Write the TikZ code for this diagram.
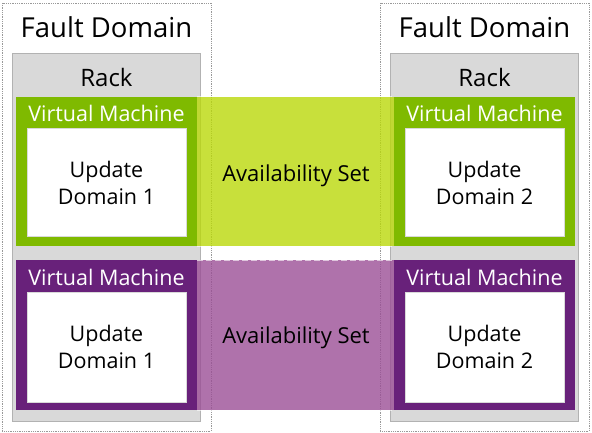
\documentclass[tikz,border=0pt]{standalone}
\usepackage{fontspec}
\setmainfont{Open Sans}
\usetikzlibrary{positioning}
\definecolor{vmgreen}{HTML}{7FBA00}
\definecolor{vmpurple}{HTML}{68217A}
\definecolor{setgreen}{HTML}{BAD80A}
\definecolor{setpurple}{HTML}{9B4F96}
\definecolor{rackgray}{HTML}{D9D9D9}

\begin{document}
\begin{tikzpicture}[x=1pt, y=-1pt,
    fault/.style={draw=gray!80, densely dotted, line width=0.8pt},
    rack/.style={draw=gray!60, fill=rackgray, line width=0.8pt},
    updbox/.style={draw=gray!30, fill=white, line width=0.5pt},
    avset/.style={fill opacity=0.8},
    avedge/.style={draw=white, draw opacity=0.6, dash pattern=on 6pt off 3pt, line width=1pt},
    bigtext/.style={font=\fontsize{27.5}{30}\selectfont, anchor=base},
    racktext/.style={font=\fontsize{24}{26}\selectfont, anchor=base},
    vmtext/.style={font=\fontsize{21.5}{24}\selectfont, text=white, anchor=base},
    udtext/.style={font=\fontsize{21.5}{27}\selectfont, align=center},
    settext/.style={font=\fontsize{22}{24}\selectfont, anchor=base}]
    \useasboundingbox (0,0) rectangle (592,433);

    % Fault domains, racks and machines
    \foreach \side/\dx/\n in {L/0/1, R/378/2} {
        \draw[fault] (\dx+2,3) rectangle (\dx+211,431);
        \node[bigtext] (fault\side) at (\dx+106.5,38) {Fault Domain};
        \draw[rack] (\dx+12,53) rectangle (\dx+200,421);
        \node[racktext] (rack\side) at (\dx+106.5,87) {Rack};

        % Upper machine
        \fill[vmgreen] (\dx+16,97) rectangle (\dx+197,246);
        \node[vmtext] (vmtop\side) at (\dx+106.5,122) {Virtual Machine};
        \draw[updbox] (\dx+27,128) rectangle (\dx+186,236);
        \node[udtext] (udtop\side) at (\dx+106.5,183) {Update\\Domain \n};

        % Lower machine
        \fill[vmpurple] (\dx+16,260) rectangle (\dx+197,410);
        \node[vmtext] (vmlow\side) at (\dx+106.5,285) {Virtual Machine};
        \draw[updbox] (\dx+27,292) rectangle (\dx+186,402);
        \node[udtext] (udlow\side) at (\dx+106.5,347) {Update\\Domain \n};
    }

    % Availability sets
    \fill[avset, setgreen] (197,97) rectangle (394,246);
    \draw[avedge] (197,97) -- (394,97) (197,246) -- (394,246);
    \node[settext] (settop) at (296,182) {Availability Set};
    \fill[avset, setpurple] (197,260) rectangle (394,410);
    \draw[avedge] (197,260) -- (394,260) (197,410) -- (394,410);
    \node[settext] (setlow) at (296,343) {Availability Set};
\end{tikzpicture}
\end{document}
